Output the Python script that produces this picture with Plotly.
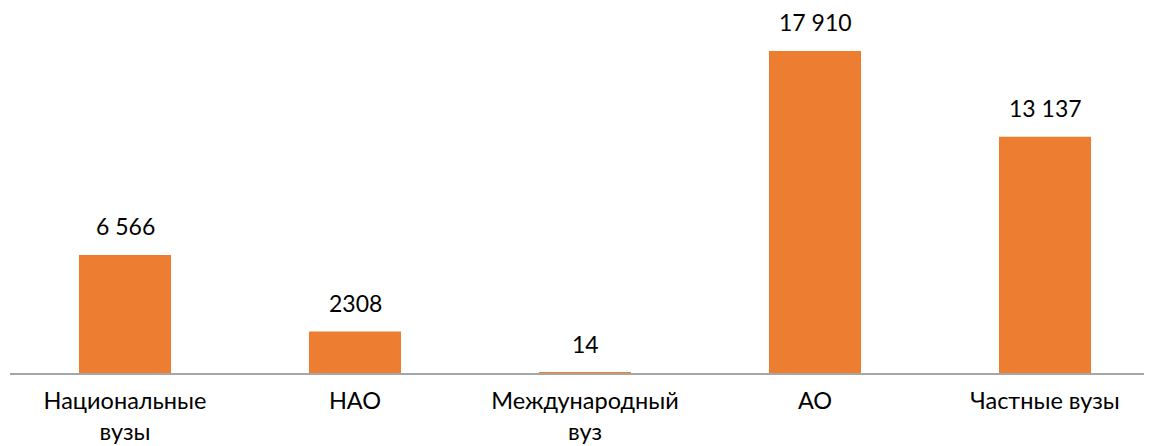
import plotly.graph_objects as go

categories = ["Национальные<br>вузы", "НАО", "Международный<br>вуз", "АО", "Частные вузы"]
values = [6566, 2308, 14, 17910, 13137]
value_labels = ["6 566", "2308", "14", "17 910", "13 137"]

FONT = "Lato, Calibri, Carlito, sans-serif"

fig = go.Figure()
fig.add_trace(go.Bar(
    x=categories, y=values,
    marker=dict(color="#ED7D31", line=dict(width=0)),
    width=0.4,
    hoverinfo="skip",
))

for c, v, t in zip(categories, values, value_labels):
    fig.add_annotation(x=c, y=v, text=t, showarrow=False, yanchor="bottom",
                       yshift=13, font=dict(family=FONT, size=23, color="#000000"))

fig.update_layout(
    width=1152, height=446,
    margin=dict(l=2, r=8, t=0, b=81),
    paper_bgcolor="white", plot_bgcolor="white",
    showlegend=False,
    bargap=0.6,
    font=dict(family=FONT, size=23, color="#000000"),
)
fig.update_xaxes(
    type="category",
    range=[-0.5, -0.5 + 1142 / 230],
    showline=True, linecolor="#a6a6a6", linewidth=1.5,
    showgrid=False, zeroline=False, ticks="",
    ticklabelstandoff=6,
    tickfont=dict(family=FONT, size=23.5, color="#000000"),
)
fig.update_yaxes(
    range=[0, 20300], visible=False, showgrid=False, zeroline=False,
)

fig.write_html("out.html")
